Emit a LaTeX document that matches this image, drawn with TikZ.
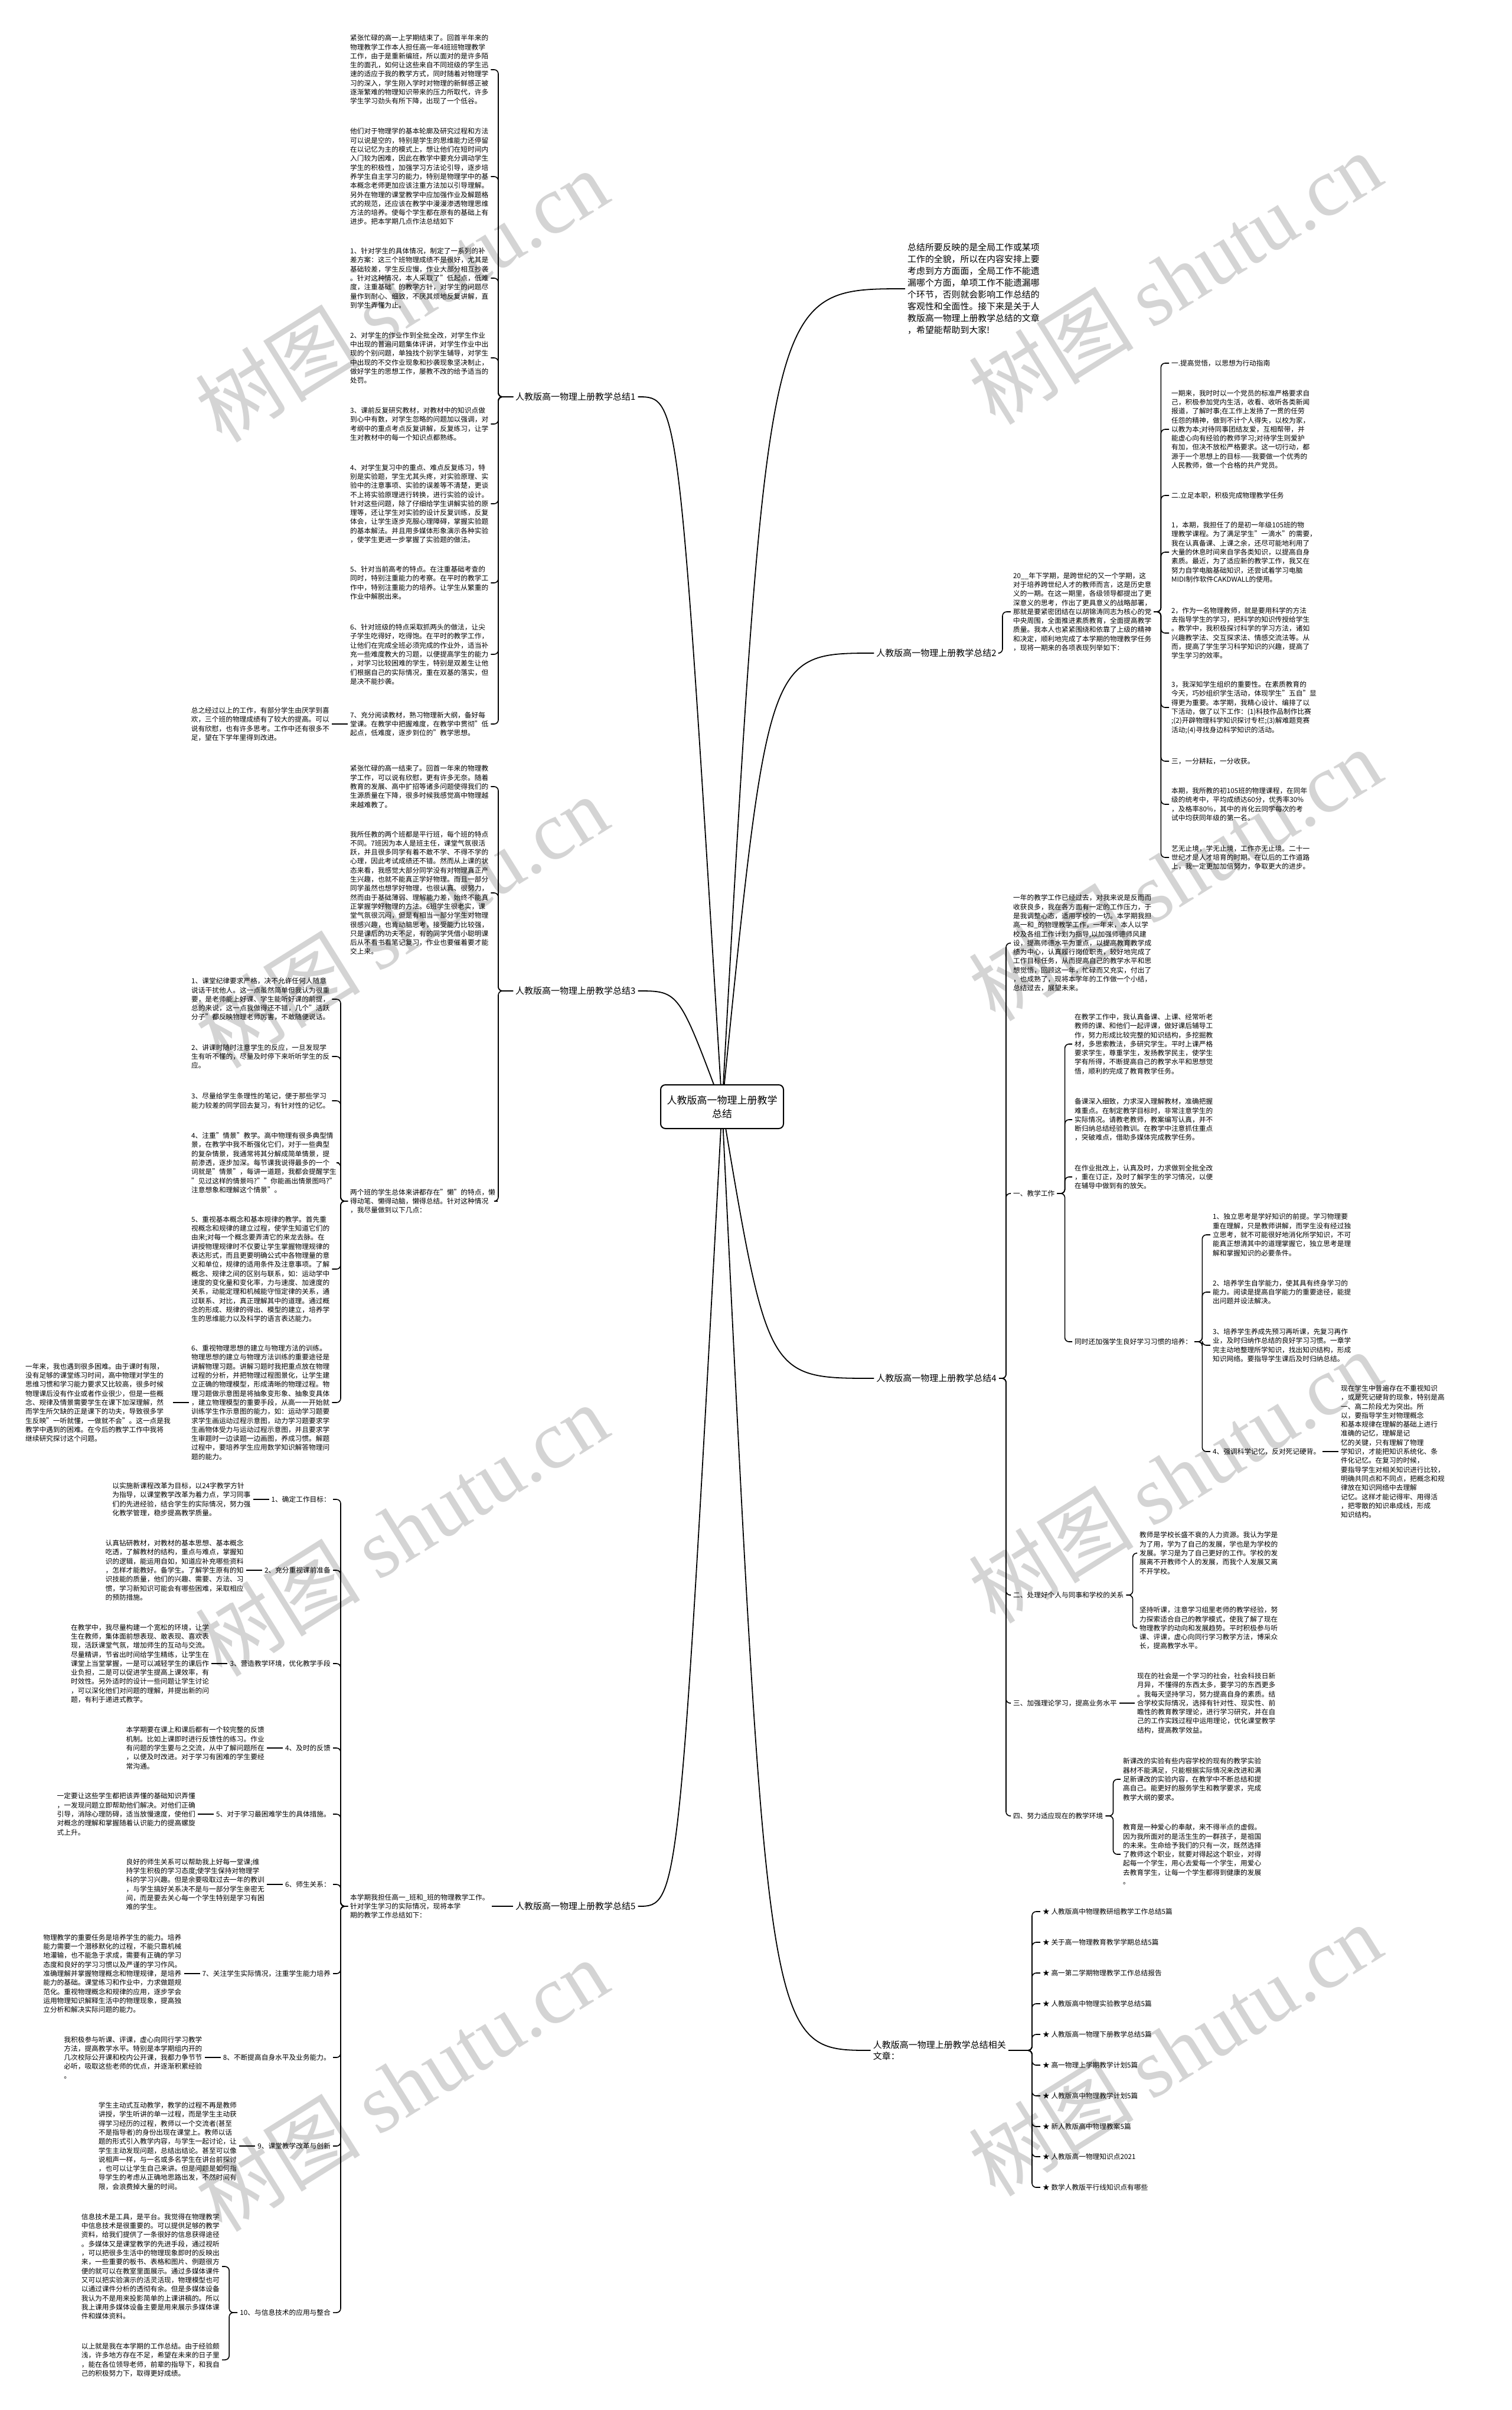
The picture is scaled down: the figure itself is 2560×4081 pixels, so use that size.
\documentclass[tikz,border=0pt]{standalone}
\usepackage{fontspec}
\setmainfont{Noto Sans CJK SC}
\newfontfamily\wmfont{Liberation Serif}
\usetikzlibrary{backgrounds}
\newcommand\tsmall{\fontsize{11.7}{15.3}\selectfont}
\newcommand\tmid{\fontsize{14.9}{20}\selectfont}
\newcommand\tlab{\fontsize{15}{19}\selectfont}
\newcommand\troot{\fontsize{17}{23}\selectfont}
\newcommand\toL[3]{\draw[conn] (#1.west) -- ++(-#3,0) |- (#2.east);}
\newcommand\toR[3]{\draw[conn] (#1.east) -- ++(#3,0) |- (#2.west);}
\begin{document}
\begin{tikzpicture}[x=1pt,y=-1pt,
 para/.style={font=\tsmall, align=left, inner xsep=4pt, inner ysep=0pt, anchor=west},
 parae/.style={para, anchor=east},
 lab/.style={font=\tlab, inner xsep=4pt, inner ysep=0pt},
 conn/.style={line width=1.6pt, rounded corners=7pt},
 lnk/.style={line width=1.5pt},
 rootc/.style={line width=1.8pt},
 wm/.style={rotate=32, text=black!17, font=\fontsize{140}{140}\selectfont, inner sep=0pt}]
\useasboundingbox (0,0) rectangle (2560,4081);

% ---------------- root
\node[draw, line width=2pt, rounded corners=8pt, fill=white, font=\troot, align=center,
      minimum width=208pt, minimum height=74pt, inner sep=6pt] (root) at (1223,1874)
      {人教版高一物理上册教学\\总结};

% ---------------- branch 1
\node[lab, anchor=west] (l1) at (869,672) {人教版高一物理上册教学总结1};
\node[para] (p11) at (589,118) {紧张忙碌的高一上学期结束了。回首半年来的\\物理教学工作本人担任高一年4班班物理教学\\工作，由于是重新编班，所以面对的是许多陌\\生的面孔，如何让这些来自不同班级的学生迅\\速的适应于我的教学方式，同时随着对物理学\\习的深入，学生刚入学时对物理的新鲜感正被\\逐渐繁难的物理知识带来的压力所取代，许多\\学生学习劲头有所下降，出现了一个低谷。};
\node[para] (p12) at (589,299) {他们对于物理学的基本轮廓及研究过程和方法\\可以说是空的，特别是学生的思维能力还停留\\在以记忆为主的模式上，想让他们在短时间内\\入门较为困难，因此在教学中要充分调动学生\\学生的积极性，加强学习方法论引导，逐步培\\养学生自主学习的能力，特别是物理学中的基\\本概念老师更加应该注重方法加以引导理解。\\另外在物理的课堂教学中应加强作业及解题格\\式的规范，还应该在教学中漫漫渗透物理思维\\方法的培养。使每个学生都在原有的基础上有\\进步。把本学期几点作法总结如下};
\node[para] (p13) at (589,471) {1、针对学生的具体情况，制定了一系列的补\\差方案：这三个班物理成绩不是很好，尤其是\\基础较差，学生反应慢，作业大部分相互抄袭\\。针对这种情况，本人采取了"低起点，低难\\度，注重基础"的教学方针，对学生的问题尽\\量作到耐心、细致，不厌其烦地反复讲解，直\\到学生弄懂为止。};
\node[para] (p14) at (589,606) {2、对学生的作业作到全批全改，对学生作业\\中出现的普遍问题集体评讲，对学生作业中出\\现的个别问题，单独找个别学生辅导，对学生\\中出现的不交作业现象和抄袭现象坚决制止，\\做好学生的思想工作，屡教不改的给予适当的\\处罚。};
\node[para] (p15) at (589,718) {3、课前反复研究教材，对教材中的知识点做\\到心中有数，对学生忽略的问题加以强调，对\\考纲中的重点考点反复讲解，反复练习，让学\\生对教材中的每一个知识点都熟练。};
\node[para] (p16) at (589,853) {4、对学生复习中的重点、难点反复练习，特\\别是实验题，学生尤其头疼，对实验原理、实\\验中的注意事项、实验的误差等不清楚，更谈\\不上将实验原理进行转换，进行实验的设计。\\针对这些问题，除了仔细给学生讲解实验的原\\理等，还让学生对实验的设计反复训练，反复\\体会，让学生逐步克服心理障碍，掌握实验题\\的基本解法。并且用多媒体形象演示各种实验\\，使学生更进一步掌握了实验题的做法。};
\node[para] (p17) at (589,987) {5、针对当前高考的特点。在注重基础考查的\\同时，特别注重能力的考察。在平时的教学工\\作中，特别注重能力的培养。让学生从繁重的\\作业中解脱出来。};
\node[para] (p18) at (589,1108) {6、针对班级的特点采取抓两头的做法，让尖\\子学生吃得好，吃得饱。在平时的教学工作，\\让他们在完成全班必须完成的作业外，适当补\\充一些难度教大的习题，以便提高学生的能力\\，对学习比较困难的学生，特别是双差生让他\\们根据自己的实际情况，重在双基的落实，但\\是决不能抄袭。};
\node[para] (p19) at (589,1226) {7、充分阅读教材，熟习物理新大纲，备好每\\堂课。在教学中把握难度，在教学中贯彻"低\\起点，低难度，逐步到位的"教学思想。};
\node[parae] (zz) at ([xshift=-27pt]p19.west) {总之经过以上的工作，有部分学生由厌学到喜\\欢，三个班的物理成绩有了较大的提高。可以\\说有欣慰，也有许多思考。工作中还有很多不\\足，望在下学年里得到改进。};

% ---------------- branch 3
\node[lab, anchor=west] (l3) at (869,1678) {人教版高一物理上册教学总结3};
\node[para] (c31) at (589,1332) {紧张忙碌的高一结束了。回首一年来的物理教\\学工作，可以说有欣慰，更有许多无奈。随着\\教育的发展、高中扩招等诸多问题使得我们的\\生源质量在下降，很多时候我感觉高中物理越\\来越难教了。};
\node[para] (c32) at (589,1512) {我所任教的两个班都是平行班，每个班的特点\\不同。7班因为本人是班主任，课堂气氛很活\\跃，并且很多同学有着不敢不学、不得不学的\\心理，因此考试成绩还不错。然而从上课的状\\态来看，我感觉大部分同学没有对物理真正产\\生兴趣，也就不能真正学好物理。而且一部分\\同学虽然也想学好物理，也很认真、很努力，\\然而由于基础薄弱、理解能力差，始终不能真\\正掌握学好物理的方法。6班学生很老实，课\\堂气氛很沉闷，但是有相当一部分学生对物理\\很感兴趣，也肯动脑思考，接受能力比较强，\\只是课后的功夫不足，有的同学凭借小聪明课\\后从不看书看笔记复习，作业也要催着要才能\\交上来。};
\node[para] (c33) at (589,2034) {两个班的学生总体来讲都存在"懒"的特点，懒\\得动笔、懒得动脑，懒得总结。针对这种情况\\，我尽量做到以下几点：};
\node[para] (i31) at (320,1692) {1、课堂纪律要求严格，决不允许任何人随意\\说话干扰他人。这一点虽然简单但我认为很重\\要，是老师能上好课、学生能听好课的前提，\\总的来说，这一点我做得还不错，几个"活跃\\分子"都反映物理老师厉害，不敢随便说话。};
\node[para] (i32) at (320,1789) {2、讲课时随时注意学生的反应，一旦发现学\\生有听不懂的，尽量及时停下来听听学生的反\\应。};
\node[para] (i33) at (320,1864) {3、尽量给学生条理性的笔记，便于那些学习\\能力较差的同学回去复习，有针对性的记忆。};
\node[para] (i34) at (320,1969) {4、注重"情景"教学。高中物理有很多典型情\\景，在教学中我不断强化它们，对于一些典型\\的复杂情景，我通常将其分解成简单情景，提\\前渗透，逐步加深。每节课我说得最多的一个\\词就是"情景"，每讲一道题，我都会提醒学生\\"见过这样的情景吗?""你能画出情景图吗?"\\注意想象和理解这个情景"。};
\node[para] (i35) at (320,2149) {5、重视基本概念和基本规律的教学。首先重\\视概念和规律的建立过程，使学生知道它们的\\由来;对每一个概念要弄清它的来龙去脉。在\\讲授物理规律时不仅要让学生掌握物理规律的\\表达形式，而且更要明确公式中各物理量的意\\义和单位，规律的适用条件及注意事项。了解\\概念、规律之间的区别与联系，如：运动学中\\速度的变化量和变化率，力与速度、加速度的\\关系，动能定理和机械能守恒定律的关系，通\\过联系、对比，真正理解其中的道理。通过概\\念的形成、规律的得出、模型的建立，培养学\\生的思维能力以及科学的语言表达能力。};
\node[para] (i36) at (320,2375) {6、重视物理思想的建立与物理方法的训练。\\物理思想的建立与物理方法训练的重要途径是\\讲解物理习题。讲解习题时我把重点放在物理\\过程的分析，并把物理过程图景化，让学生建\\立正确的物理模型，形成清晰的物理过程。物\\理习题做示意图是将抽象变形象、抽象变具体\\，建立物理模型的重要手段，从高一一开始就\\训练学生作示意图的能力，如：运动学习题要\\求学生画运动过程示意图，动力学习题要求学\\生画物体受力与运动过程示意图，并且要求学\\生审题时一边读题一边画图，养成习惯。解题\\过程中，要培养学生应用数学知识解答物理问\\题的能力。};
\node[parae] (ynl) at ([xshift=-27pt]i36.west) {一年来，我也遇到很多困难。由于课时有限，\\没有足够的课堂练习时间，高中物理对学生的\\思维习惯和学习能力要求又比较高，很多时候\\物理课后没有作业或者作业很少，但是一些概\\念、规律及情景需要学生在课下加深理解，然\\而学生所欠缺的正是课下的功夫，导致很多学\\生反映"一听就懂，一做就不会"。这一点是我\\教学中遇到的困难。在今后的教学工作中我将\\继续研究探讨这个问题。};

% ---------------- branch 5
\node[lab, anchor=west] (l5) at (869,3228) {人教版高一物理上册教学总结5};
\node[para] (in5) at (589,3228) {本学期我担任高一\_班和\_班的物理教学工作。\\针对学生学习的实际情况，现将本学\\期的教学工作总结如下：};
\node[para, anchor=east] (b1) at (564,2539) {1、确定工作目标：};
\node[para, anchor=east] (b2) at (564,2659) {2、充分重视课前准备};
\node[para, anchor=east] (b3) at (564,2817) {3、营造教学环境，优化教学手段};
\node[para, anchor=east] (b4) at (564,2960) {4、及时的反馈};
\node[para, anchor=east] (b5) at (564,3072) {5、对于学习最困难学生的具体措施。};
\node[para, anchor=east] (b6) at (564,3191) {6、师生关系：};
\node[para, anchor=east] (b7) at (564,3342) {7、关注学生实际情况，注重学生能力培养};
\node[para, anchor=east] (b8) at (564,3484) {8、不断提高自身水平及业务能力。};
\node[para, anchor=east] (b9) at (564,3634) {9、课堂教学改革与创新};
\node[para, anchor=east] (b10) at (564,3916) {10、与信息技术的应用与整合};
\node[parae] (t1) at ([xshift=-27pt]b1.west) {以实施新课程改革为目标，以24字教学方针\\为指导，以课堂教学改革为着力点，学习同事\\们的先进经验，结合学生的实际情况，努力强\\化教学管理，稳步提高教学质量。};
\node[parae] (t2) at ([xshift=-27pt]b2.west) {认真钻研教材，对教材的基本思想、基本概念\\吃透，了解教材的结构，重点与难点，掌握知\\识的逻辑，能运用自如，知道应补充哪些资料\\，怎样才能教好。备学生。了解学生原有的知\\识技能的质量，他们的兴趣、需要、方法、习\\惯，学习新知识可能会有哪些困难，采取相应\\的预防措施。};
\node[parae] (t3) at ([xshift=-27pt]b3.west) {在教学中，我尽量构建一个宽松的环境，让学\\生在教师，集体面前想表现、敢表现、喜欢表\\现，活跃课堂气氛，增加师生的互动与交流。\\尽量精讲，节省出时间给学生精练，让学生在\\课堂上当堂掌握，一是可以减轻学生的课后作\\业负担，二是可以促进学生提高上课效率，有\\时效性。另外适时的设计一些问题让学生讨论\\，可以深化他们对问题的理解，并提出新的问\\题，有利于递进式教学。};
\node[parae] (t4) at ([xshift=-27pt]b4.west) {本学期要在课上和课后都有一个较完整的反馈\\机制。比如上课即时进行反馈性的练习。作业\\有问题的学生要与之交流，从中了解问题所在\\，以便及时改进。对于学习有困难的学生要经\\常沟通。};
\node[parae] (t5) at ([xshift=-27pt]b5.west) {一定要让这些学生都把该弄懂的基础知识弄懂\\，一发现问题立即帮助他们解决。对他们正确\\引导，消除心理防碍，适当放慢速度，使他们\\对概念的理解和掌握随着认识能力的提高螺旋\\式上升。};
\node[parae] (t6) at ([xshift=-27pt]b6.west) {良好的师生关系可以帮助我上好每一堂课;维\\持学生积极的学习态度;使学生保持对物理学\\科的学习兴趣。但是余要吸取过去一年的教训\\，与学生搞好关系决不是与一部分学生亲密无\\间，而是要去关心每一个学生特别是学习有困\\难的学生。};
\node[parae] (t7) at ([xshift=-27pt]b7.west) {物理教学的重要任务是培养学生的能力。培养\\能力需要一个潜移默化的过程，不能只靠机械\\地灌输，也不能急于求成，需要有正确的学习\\态度和良好的学习习惯以及严谨的学习作风。\\准确理解并掌握物理概念和物理规律，是培养\\能力的基础。课堂练习和作业中，力求做题规\\范化。重视物理概念和规律的应用，逐步学会\\运用物理知识解释生活中的物理现象，提高独\\立分析和解决实际问题的能力。};
\node[parae] (t8) at ([xshift=-27pt]b8.west) {我积极参与听课、评课，虚心向同行学习教学\\方法，提高教学水平。特别是本学期组内开的\\几次校际公开课和校内公开课，我都力争节节\\必听，吸取这些老师的优点，并逐渐积累经验\\。};
\node[parae] (t9) at ([xshift=-27pt]b9.west) {学生主动式互动教学，教学的过程不再是教师\\讲授，学生听讲的单一过程，而是学生主动获\\得学习经历的过程，教师以一个交流者(甚至\\不是指导者)的身份出现在课堂上。教师以话\\题的形式引入教学内容，与学生一起讨论，让\\学生主动发现问题，总结出结论。甚至可以像\\说相声一样，与一名或多名学生在讲台前探讨\\，也可以让学生自己来讲。但是问题是如何指\\导学生的考虑从正确地思路出发，不然时间有\\限，会浪费掉大量的时间。};
\node[parae] (t10a) at (376,3838) {信息技术是工具，是平台。我觉得在物理教学\\中信息技术是很重要的。可以提供足够的教学\\资料，给我们提供了一条很好的信息获得途径\\。多媒体又是课堂教学的先进手段，通过视听\\，可以把很多生活中的物理现象即时的反映出\\来，一些重要的板书、表格和图片、例题很方\\便的就可以在教室里面展示。通过多媒体课件\\又可以把实验演示的活灵活现，物理模型也可\\以通过课件分析的透彻有余。但是多媒体设备\\我认为不是用来投影简单的上课讲稿的。所以\\我上课用多媒体设备主要是用来展示多媒体课\\件和媒体资料。};
\node[parae] (t10b) at (376,3996) {以上就是我在本学期的工作总结。由于经验颇\\浅，许多地方存在不足，希望在未来的日子里\\，能在各位领导老师，前辈的指导下，和我自\\己的积极努力下，取得更好成绩。};

% ---------------- right intro
\node[font=\tmid, align=left, inner xsep=4pt, inner ysep=0pt, anchor=west] (intro) at (1533,489) {总结所要反映的是全局工作或某项\\工作的全貌，所以在内容安排上要\\考虑到方方面面，全局工作不能遗\\漏哪个方面，单项工作不能遗漏哪\\个环节，否则就会影响工作总结的\\客观性和全面性。接下来是关于人\\教版高一物理上册教学总结的文章\\，希望能帮助到大家!};

% ---------------- branch 2
\node[lab, anchor=east] (l2) at (1692,1106) {人教版高一物理上册教学总结2};
\node[para] (k0) at (1712,1036) {20\_\_年下学期，是跨世纪的又一个学期，这\\对于培养跨世纪人才的教师而言，这是历史意\\义的一期。在这一期里，各级领导都提出了更\\深意义的思考，作出了更具意义的战略部署，\\那就是要紧密团结在以胡锦涛同志为核心的党\\中央周围，全面推进素质教育，全面提高教学\\质量。我本人也紧紧围绕和依靠了上级的精神\\和决定，顺利地完成了本学期的物理教学任务\\，现将一期来的各项表现列举如下：};
\node[para] (k1) at (1980,615) {一.提高觉悟，以思想为行动指南};
\node[para] (k2) at (1980,727) {一期来，我时时以一个党员的标准严格要求自\\己，积极参加党内生活，收看、收听各类新闻\\报道，了解时事;在工作上发扬了一贯的任劳\\任怨的精神，做到不计个人得失，以校为家，\\以教为本;对待同事团结友爱，互相帮带，并\\能虚心向有经验的教师学习;对待学生则爱护\\有加，但决不放松严格要求。这一切行动，都\\源于一个思想上的目标——我要做一个优秀的\\人民教师，做一个合格的共产党员。};
\node[para] (k3) at (1980,839) {二.立足本职，积极完成物理教学任务};
\node[para] (k4) at (1980,935) {1，本期，我担任了的是初一年级105班的物\\理教学课程。为了满足学生"一滴水"的需要，\\我在认真备课、上课之余，还尽可能地利用了\\大量的休息时间来自学各类知识，以提高自身\\素质。最近，为了适应新的教学工作，我又在\\努力自学电脑基础知识，还尝试着学习电脑\\MIDI制作软件CAKDWALL的使用。};
\node[para] (k5) at (1980,1072) {2，作为一名物理教师，就是要用科学的方法\\去指导学生的学习，把科学的知识传授给学生\\。教学中，我积极探讨科学的学习方法，诸如\\兴趣教学法、交互探求法、情感交流法等。从\\而，提高了学生学习科学知识的兴趣，提高了\\学生学习的效率。};
\node[para] (k6) at (1980,1198) {3，我深知学生组织的重要性。在素质教育的\\今天，巧妙组织学生活动，体现学生"五自"显\\得更为重要。本学期，我精心设计、编排了以\\下活动，做了以下工作：(1)科技作品制作比赛\\;(2)开辟物理科学知识探讨专栏;(3)解难题竞赛\\活动;(4)寻找身边科学知识的活动。};
\node[para] (k7) at (1980,1289) {三，一分耕耘，一分收获。};
\node[para] (k8) at (1980,1362) {本期，我所教的初105班的物理课程，在同年\\级的统考中，平均成绩达60分，优秀率30\%\\，及格率80\%，其中的肖化云同学每次的考\\试中均获同年级的第一名。};
\node[para] (k9) at (1980,1452) {艺无止境，学无止境，工作亦无止境。二十一\\世纪才是人才培育的时期。在以后的工作道路\\上，我一定更加加倍努力，争取更大的进步。};

% ---------------- branch 4
\node[lab, anchor=east] (l4) at (1692,2334) {人教版高一物理上册教学总结4};
\node[para] (q1) at (1712,1597) {一年的教学工作已经过去，对我来说是反而而\\收获良多，我在各方面有一定的工作压力，于\\是我调整心态，适用学校的一切。本学期我担\\高一和\_的物理教学工作，一年来，本人以学\\校及各组工作计划为指导,以加强师德师风建\\设，提高师德水平为重点，以提高教育教学成\\绩为中心，认真履行岗位职责，较好地完成了\\工作目标任务，从而提高自己的教学水平和思\\想觉悟，回顾这一年，忙碌而又充实，付出了\\，也成熟了，现将本学年的工作做一个小结，\\总结过去，展望未来。};
\node[para] (q2) at (1712,2021) {一、教学工作};
\node[para] (q3) at (1712,2701) {二、处理好个人与同事和学校的关系};
\node[para] (q4) at (1712,2884) {三、加强理论学习，提高业务水平};
\node[para] (q5) at (1712,3075) {四、努力适应现在的教学环境};
\node[para] (m1) at (1816,1768) {在教学工作中，我认真备课、上课、经常听老\\教师的课、和他们一起评课，做好课后辅导工\\作，努力形成比较完整的知识结构，多挖掘教\\材，多思索教法，多研究学生。平时上课严格\\要求学生，尊重学生，发扬教学民主，使学生\\学有所得，不断提高自己的教学水平和思想觉\\悟，顺利的完成了教育教学任务。};
\node[para] (m2) at (1816,1896) {备课深入细致，力求深入理解教材，准确把握\\难重点。在制定教学目标时，非常注意学生的\\实际情况。请教老教师，教案编写认真，并不\\断归纳总结经验教训。在教学中注意抓住重点\\，突破难点，借助多媒体完成教学任务。};
\node[para] (m3) at (1816,1993) {在作业批改上，认真及时，力求做到全批全改\\，重在订正，及时了解学生的学习情况，以便\\在辅导中做到有的放矢。};
\node[para] (m4) at (1816,2272) {同时还加强学生良好学习习惯的培养：};
\node[para] (n1) at (2050,2091) {1、独立思考是学好知识的前提。学习物理要\\重在理解，只是教师讲解，而学生没有经过独\\立思考，就不可能很好地消化所学知识，不可\\能真正想清其中的道理掌握它，独立思考是理\\解和掌握知识的必要条件。};
\node[para] (n2) at (2050,2188) {2、培养学生自学能力，使其具有终身学习的\\能力。阅读是提高自学能力的重要途径，能提\\出问题并设法解决。};
\node[para] (n3) at (2050,2278) {3、培养学生养成先预习再听课，先复习再作\\业，及时归纳作总结的良好学习习惯。一章学\\完主动地整理所学知识，找出知识结构，形成\\知识网络。要指导学生课后及时归纳总结。};
\node[para] (n4) at (2050,2458) {4、强调科学记忆，反对死记硬背。};
\node[para] (n4t) at (2267,2458) {现在学生中普遍存在不重视知识\\，或是死记硬背的现象，特别是高\\一、高二阶段尤为突出。所\\以，要指导学生对物理概念\\和基本规律在理解的基础上进行\\准确的记忆，理解是记\\忆的关键，只有理解了物理\\学知识，才能把知识系统化、条\\件化记忆。在复习的时候，\\要指导学生对相关知识进行比较，\\明确共同点和不同点，把概念和规\\律放在知识网络中去理解\\记忆。这样才能记得牢、用得活\\，把零散的知识串成线，形成\\知识结构。};
\node[para] (o1) at (1926,2630) {教师是学校长盛不衰的人力资源。我认为学是\\为了用，学为了自己的发展，学也是为学校的\\发展。学习是为了自己更好的工作。学校的发\\展离不开教师个人的发展，而我个人发展又离\\不开学校。};
\node[para] (o2) at (1926,2757) {坚持听课，注意学习组里老师的教学经验，努\\力探索适合自己的教学模式，使我了解了现在\\物理教学的动向和发展趋势。平时积极参与听\\课、评课，虚心向同行学习教学方法，博采众\\长，提高教学水平。};
\node[para] (pt) at (1922,2884) {现在的社会是一个学习的社会，社会科技日新\\月异，不懂得的东西太多，要学习的东西更多\\。我每天坚持学习，努力提高自身的素质。结\\合学校实际情况，选择有针对性、现实性、前\\瞻性的教育教学理论，进行学习研究，并在自\\己的工作实践过程中运用理论，优化课堂教学\\结构，提高教学效益。};
\node[para] (r1) at (1898,3013) {新课改的实验有些内容学校的现有的教学实验\\器材不能满足，只能根据实际情况来改进和满\\足新课改的实验内容，在教学中不断总结和提\\高自己。能更好的服务学生和教学要求，完成\\教学大纲的要求。};
\node[para] (r2) at (1898,3140) {教育是一种爱心的奉献，来不得半点的虚假。\\因为我所面对的是活生生的一群孩子，是祖国\\的未来。生命给予我们的只有一次，既然选择\\了教师这个职业，就要对得起这个职业，对得\\起每一个学生，用心去爱每一个学生，用爱心\\去教育学生，让每一个学生都得到健康的发展\\。};

% ---------------- related
\node[font=\tlab, align=left, inner xsep=4pt, inner ysep=0pt, anchor=east] (rl) at (1708,3472) {人教版高一物理上册教学总结相关\\文章：};
\node[para] (a1) at (1762,3237) {★ 人教版高中物理教研组教学工作总结5篇};
\node[para] (a2) at (1762,3289) {★ 关于高一物理教育教学学期总结5篇};
\node[para] (a3) at (1762,3341) {★ 高一第二学期物理教学工作总结报告};
\node[para] (a4) at (1762,3393) {★ 人教版高中物理实验教学总结5篇};
\node[para] (a5) at (1762,3445) {★ 人教版高一物理下册教学总结5篇};
\node[para] (a6) at (1762,3497) {★ 高一物理上学期教学计划5篇};
\node[para] (a7) at (1762,3549) {★ 人教版高中物理教学计划5篇};
\node[para] (a8) at (1762,3601) {★ 新人教版高中物理教案5篇};
\node[para] (a9) at (1762,3652) {★ 人教版高一物理知识点2021};
\node[para] (a10) at (1762,3704) {★ 数学人教版平行线知识点有哪些};

\begin{pgfonlayer}{background}
\fill[white] (0,0) rectangle (2560,4081);
\foreach \wx/\wy in {680/500,680/1560,680/2590,680/3530,1990/470,1990/1480,1990/2500,1990/3470}
  \node[wm, name=wm-\wx-\wy] at (\wx,\wy) {树图 {\wmfont shutu.cn}};
% root connectors
\draw[rootc] (root.center) .. controls (1150,672) .. (l1.east);
\draw[rootc] (root.center) .. controls (1150,1678) .. (l3.east);
\draw[rootc] (root.center) .. controls (1150,3228) .. (l5.east);
\draw[rootc] (root.center) .. controls (1300,489) .. (intro.west);
\draw[rootc] (root.center) .. controls (1300,1106) .. (l2.west);
\draw[rootc] (root.center) .. controls (1300,2334) .. (l4.west);
\draw[rootc] (root.center) .. controls (1300,3472) .. (rl.west);
% branch 1
\foreach \c in {p11,p12,p13,p14,p15,p16,p17,p18,p19} {\toL{l1}{\c}{25}}
\draw[lnk] (p19.west) -- (zz.east);
% branch 3
\foreach \c in {c31,c32,c33} {\toL{l3}{\c}{25}}
\foreach \c in {i31,i32,i33,i34,i35,i36} {\toL{c33}{\c}{12}}
\draw[lnk] (i36.west) -- (ynl.east);
% branch 5
\draw[lnk] (l5.west) -- (in5.east);
\foreach \c in {b1,b2,b3,b4,b5,b6,b7,b8,b9,b10} {\toL{in5}{\c}{12}}
\foreach \b/\t in {b1/t1,b2/t2,b3/t3,b4/t4,b5/t5,b6/t6,b7/t7,b8/t8,b9/t9} {\draw[lnk] (\b.west) -- (\t.east);}
\toL{b10}{t10a}{14}
\toL{b10}{t10b}{14}
% branch 2
\draw[conn] (l2.east) -- ++(6,0) |- (k0.west);
\foreach \c in {k1,k2,k3,k4,k5,k6,k7,k8,k9} {\toR{k0}{\c}{12}}
% branch 4
\foreach \c in {q1,q2,q3,q4,q5} {\toR{l4}{\c}{12}}
\foreach \c in {m1,m2,m3,m4} {\toR{q2}{\c}{13}}
\foreach \c in {n1,n2,n3,n4} {\toR{m4}{\c}{13}}
\draw[lnk] (n4.east) -- (n4t.west);
\toR{q3}{o1}{11}
\toR{q3}{o2}{11}
\draw[lnk] (q4.east) -- (pt.west);
\toR{q5}{r1}{13}
\toR{q5}{r2}{13}
% related
\foreach \c in {a1,a2,a3,a4,a5,a6,a7,a8,a9,a10} {\toR{rl}{\c}{40}}
\end{pgfonlayer}
\end{tikzpicture}
\end{document}
